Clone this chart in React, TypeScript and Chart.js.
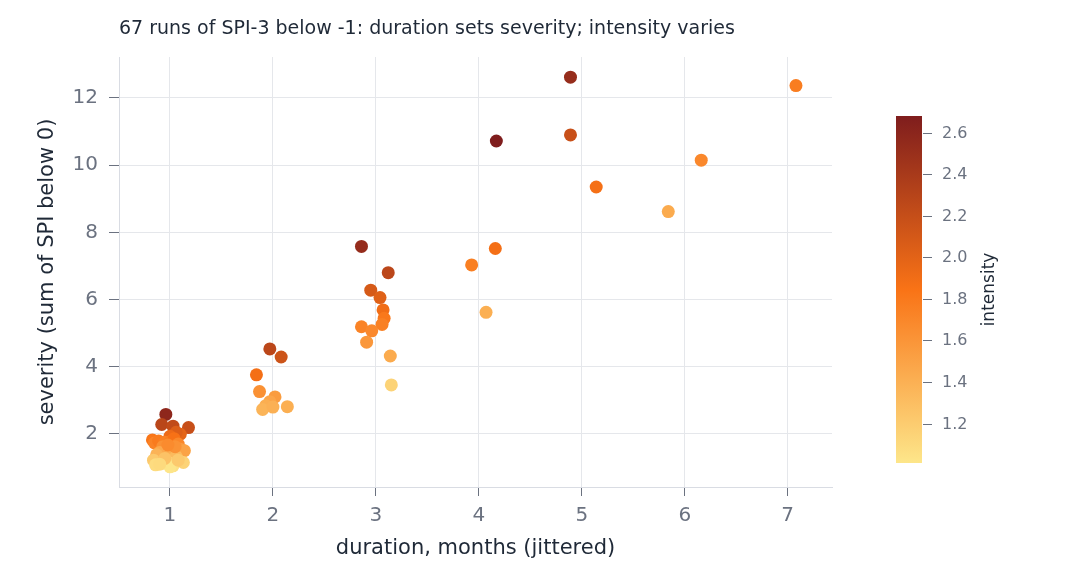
import React, { useEffect, useRef } from "react";
import { Chart, registerables } from "chart.js";

Chart.register(...registerables);

// Drought runs: jittered duration (months), severity and mean intensity
const duration = [
  0.96, 0.92, 1.03, 1.18, 1.10, 1.06, 1.00, 0.83, 0.85, 0.89,
  0.95, 1.01, 1.04, 1.08, 1.12, 1.09, 0.93, 0.97, 1.02, 0.90,
  1.14, 0.87, 1.06, 0.84, 0.86, 0.92, 0.98, 1.03, 1.00, 1.13,
  1.08, 0.95, 0.90, 1.05, 0.98,
  1.97, 2.08, 1.84, 1.87, 2.02, 1.97, 1.93, 1.90, 2.00, 2.14,
  2.86, 3.12, 2.95, 3.04, 3.07, 3.08, 3.06, 2.86, 2.96, 2.91, 3.14, 3.15,
  4.17, 4.16, 3.93, 4.07,
  4.89, 4.89, 5.14,
  6.16, 5.84,
  7.08,
];
const severity = [
  2.58, 2.28, 2.23, 2.19, 1.99, 2.05, 1.93, 1.82, 1.73, 1.79,
  1.75, 1.78, 1.86, 1.70, 1.52, 1.55, 1.62, 1.50, 1.42, 1.45,
  1.50, 1.38, 1.33, 1.22, 1.08, 1.12, 1.16, 1.05, 1.02, 1.15,
  1.22, 1.27, 1.10, 1.62, 1.67,
  4.53, 4.29, 3.76, 3.26, 3.10, 2.96, 2.84, 2.73, 2.80, 2.81,
  7.58, 6.80, 6.28, 6.06, 5.69, 5.44, 5.26, 5.19, 5.07, 4.73, 4.32, 3.46,
  10.72, 7.52, 7.03, 5.62,
  12.62, 10.90, 9.35,
  10.15, 8.62,
  12.37,
];
const intensity = [
  2.58, 2.28, 2.23, 2.19, 1.99, 2.05, 1.93, 1.82, 1.73, 1.79,
  1.75, 1.78, 1.86, 1.70, 1.52, 1.55, 1.62, 1.50, 1.42, 1.45,
  1.50, 1.38, 1.33, 1.22, 1.08, 1.12, 1.16, 1.05, 1.02, 1.15,
  1.22, 1.27, 1.10, 1.62, 1.67,
  2.27, 2.15, 1.88, 1.63, 1.55, 1.48, 1.42, 1.37, 1.40, 1.41,
  2.53, 2.27, 2.09, 2.02, 1.90, 1.81, 1.75, 1.73, 1.69, 1.58, 1.44, 1.15,
  2.68, 1.88, 1.76, 1.41,
  2.52, 2.18, 1.87,
  1.69, 1.44,
  1.77,
];

const xTickValues = [1, 2, 3, 4, 5, 6, 7];
const yTickValues = [2, 4, 6, 8, 10, 12];
const colorbarTickValues = [1.2, 1.4, 1.6, 1.8, 2.0, 2.2, 2.4, 2.6];
const intensityRange = [1.01, 2.68];

const chartTitle = "67 runs of SPI-3 below -1: duration sets severity; intensity varies";
const xTitle = "duration, months (jittered)";
const yTitle = "severity (sum of SPI below 0)";
const colorbarTitle = "intensity";

const FONT = "'DejaVu Sans', sans-serif";
const TICK_COLOR = "#6b7280";
const TEXT_COLOR = "#1f2937";
const GRID_COLOR = "#e5e7eb";

// pale yellow -> orange -> dark red
const colorStops: [number, number[]][] = [
  [0, [253, 230, 138]],
  [0.5, [249, 115, 22]],
  [1, [127, 29, 29]],
];

function colorFor(v: number): string {
  const t = Math.min(1, Math.max(0, (v - intensityRange[0]) / (intensityRange[1] - intensityRange[0])));
  for (let i = 1; i < colorStops.length; i++) {
    const [t1, c1] = colorStops[i];
    const [t0, c0] = colorStops[i - 1];
    if (t <= t1) {
      const f = (t - t0) / (t1 - t0);
      const c = c0.map((a, k) => Math.round(a + (c1[k] - a) * f));
      return `rgb(${c[0]},${c[1]},${c[2]})`;
    }
  }
  const c = colorStops[colorStops.length - 1][1];
  return `rgb(${c[0]},${c[1]},${c[2]})`;
}

// Title and colour bar drawn on top of the scatter
const decorations = {
  id: "decorations",
  afterDraw(chart: any) {
    const ctx = chart.ctx as CanvasRenderingContext2D;
    ctx.save();

    ctx.font = `19px ${FONT}`;
    ctx.fillStyle = TEXT_COLOR;
    ctx.textAlign = "left";
    ctx.textBaseline = "middle";
    ctx.fillText(chartTitle, chart.chartArea.left, 29);

    const barLeft = 896;
    const barWidth = 26;
    const barTop = 116;
    const barBottom = 463;
    const toY = (v: number) =>
      barBottom - ((v - intensityRange[0]) / (intensityRange[1] - intensityRange[0])) * (barBottom - barTop);

    const grad = ctx.createLinearGradient(0, barBottom, 0, barTop);
    colorStops.forEach(([t, c]) => grad.addColorStop(t, `rgb(${c[0]},${c[1]},${c[2]})`));
    ctx.fillStyle = grad;
    ctx.fillRect(barLeft, barTop, barWidth, barBottom - barTop);

    ctx.strokeStyle = TICK_COLOR;
    ctx.lineWidth = 1;
    ctx.font = `16px ${FONT}`;
    ctx.fillStyle = TICK_COLOR;
    ctx.textAlign = "left";
    ctx.textBaseline = "middle";
    colorbarTickValues.forEach((v) => {
      const y = Math.round(toY(v)) + 0.5;
      ctx.beginPath();
      ctx.moveTo(barLeft + barWidth + 1, y);
      ctx.lineTo(barLeft + barWidth + 10, y);
      ctx.stroke();
      ctx.fillText(v.toFixed(1), barLeft + barWidth + 20, y);
    });

    ctx.translate(990, (barTop + barBottom) / 2);
    ctx.rotate(-Math.PI / 2);
    ctx.font = `17px ${FONT}`;
    ctx.fillStyle = TEXT_COLOR;
    ctx.textAlign = "center";
    ctx.textBaseline = "middle";
    ctx.fillText(colorbarTitle, 0, 0);

    ctx.restore();
  },
};

export default function App() {
  const canvasRef = useRef<HTMLCanvasElement | null>(null);

  useEffect(() => {
    if (!canvasRef.current) return;
    const points = duration.map((d, i) => ({ x: d, y: severity[i] }));
    const chart = new Chart(canvasRef.current, {
      type: "scatter",
      data: {
        datasets: [
          {
            data: points,
            pointRadius: 6.5,
            pointHoverRadius: 6.5,
            pointBorderWidth: 0,
            pointBackgroundColor: intensity.map(colorFor),
            pointBorderColor: intensity.map(colorFor),
          },
        ],
      },
      options: {
        responsive: false,
        animation: false,
        layout: { padding: { top: 57, right: 248, left: 35, bottom: 19 } },
        plugins: {
          legend: { display: false },
          tooltip: { enabled: false },
          title: { display: false },
        },
        scales: {
          x: {
            type: "linear",
            min: 0.505,
            max: 7.43,
            afterBuildTicks: (s: any) => {
              s.ticks = xTickValues.map((value) => ({ value }));
            },
            afterFit: (s: any) => {
              s.height = 74;
            },
            grid: { color: GRID_COLOR, tickColor: TICK_COLOR, tickLength: 9 },
            border: { color: "#d9dce3" },
            ticks: {
              font: { family: FONT, size: 20 },
              color: TICK_COLOR,
              padding: 8,
              callback: (v: any) => String(v),
            },
            title: {
              display: true,
              text: xTitle,
              font: { family: FONT, size: 21 },
              color: TEXT_COLOR,
              padding: { top: 0, bottom: 0 },
            },
          },
          y: {
            type: "linear",
            min: 0.42,
            max: 13.22,
            afterBuildTicks: (s: any) => {
              s.ticks = yTickValues.map((value) => ({ value }));
            },
            afterFit: (s: any) => {
              s.width = 84;
            },
            grid: { color: GRID_COLOR, tickColor: TICK_COLOR, tickLength: 10 },
            border: { color: "#d9dce3" },
            ticks: {
              font: { family: FONT, size: 20 },
              color: TICK_COLOR,
              padding: 11,
              callback: (v: any) => String(v),
            },
            title: {
              display: true,
              text: yTitle,
              font: { family: FONT, size: 21 },
              color: TEXT_COLOR,
              padding: { top: 0, bottom: 0 },
            },
          },
        },
      },
      plugins: [decorations],
    });
    return () => chart.destroy();
  }, []);

  return (
    <div style={{ position: "fixed", left: 0, top: 0, width: 1080, height: 580, background: "#fff" }}>
      <canvas ref={canvasRef} width={1080} height={580} />
    </div>
  );
}
